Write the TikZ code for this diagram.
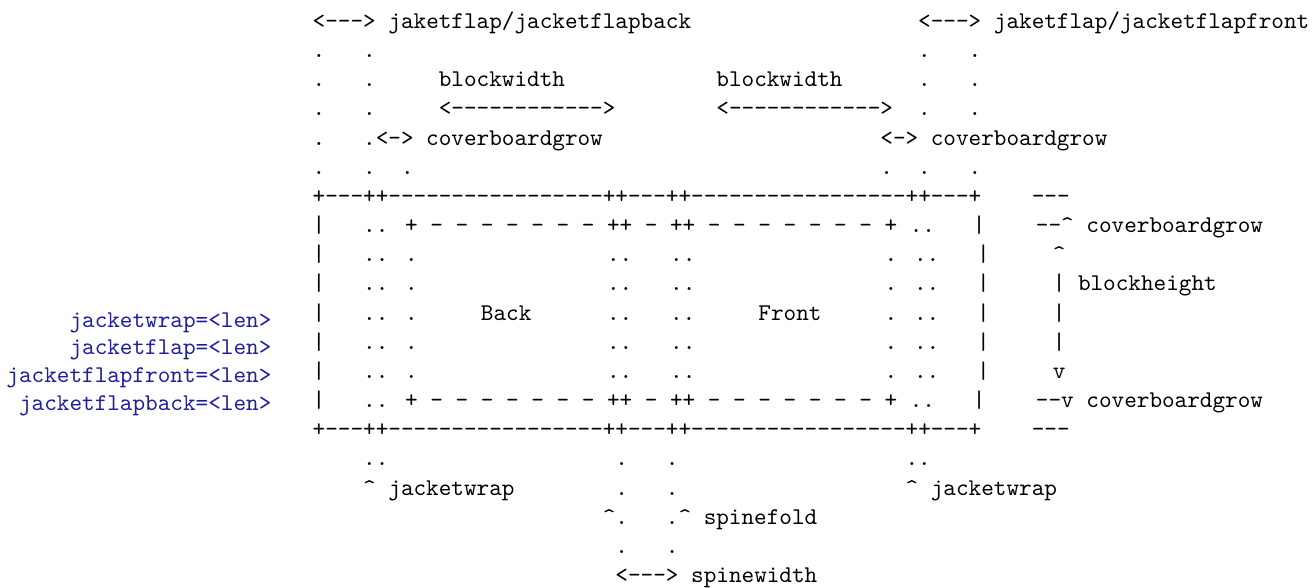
\documentclass[tikz,border=0pt]{standalone}
\usepackage{xcolor}
\usepackage{tikz}
\usetikzlibrary{positioning}
\definecolor{KeyBlue}{RGB}{30,30,160}
% one blank column of the typewriter font, and runs of hyphens that never join
\newcommand\sk[1]{\hspace*{\dimexpr0.525em*#1\relax}}
\newcommand\hy[1]{\foreach\k in {1,...,#1}{-}}
\newcommand\crt{\textasciicircum}
\newcommand\rimrow{+\hy{3}++\hy{17}++\hy{3}++\hy{17}++\hy{3}+}
\newcommand\edgerow{|\sk{3}.. + - - - - - - - ++ - ++ - - - - - - - + ..\sk{3}|}
\newcommand\bodyrow{|\sk{3}.. .\sk{15}..\sk{3}..\sk{15}. ..\sk{3}|}
\tikzset{
    asciirow/.style={
        font=\fontsize{10.05}{12}\ttfamily, inner sep=0pt, anchor=base west
    },
    keyopt/.style={
        font=\fontsize{10.05}{12}\ttfamily, text=KeyBlue, inner sep=0pt, anchor=base east
    }
}
\begin{document}
\begin{tikzpicture}[x=5.25pt, y=-12.2pt]
    \useasboundingbox (0pt,0pt) rectangle (550pt,-245.9pt);

    % --- key list on the left ---
    \node[keyopt] (kwrap)  at (113.7pt,-136.8pt) {jacketwrap=<len>};
    \node[keyopt] (kflap)  at (113.7pt,-148.4pt) {jacketflap=<len>};
    \node[keyopt] (kfront) at (113.7pt,-160.0pt) {jacketflapfront=<len>};
    \node[keyopt] (kback)  at (113.7pt,-171.6pt) {jacketflapback=<len>};

    % --- the sketch, one row per line ---
    \begin{scope}[shift={(130.6pt,-11.9pt)}]
        \node[asciirow] (flaps)     at (0,0)  {<\hy{3}> jaketflap/jacketflapback\sk{18}<\hy{3}> jaketflap/jacketflapfront};
        \node[asciirow] (flapdots)  at (0,1)  {.\sk{3}.\sk{43}.\sk{3}.};
        \node[asciirow] (widthlbl)  at (0,2)  {.\sk{3}.\sk{5}blockwidth\sk{12}blockwidth\sk{6}.\sk{3}.};
        \node[asciirow] (widtharr)  at (0,3)  {.\sk{3}.\sk{5}<\hy{12}>\sk{8}<\hy{12}>\sk{2}.\sk{3}.};
        \node[asciirow] (growlbl)   at (0,4)  {.\sk{3}.<-> coverboardgrow\sk{22}<-> coverboardgrow};
        \node[asciirow] (growdots)  at (0,5)  {.\sk{3}.\sk{2}.\sk{37}.\sk{2}.\sk{3}.};
        \node[asciirow] (rimtop)    at (0,6)  {\rimrow\sk{4}\hy{3}};
        \node[asciirow] (edgetop)   at (0,7)  {\edgerow\sk{4}\hy{2}\crt{} coverboardgrow};
        \node[asciirow] (body1)     at (0,8)  {\bodyrow\sk{5}\crt};
        \node[asciirow] (body2)     at (0,9)  {\bodyrow\sk{5}| blockheight};
        \node[asciirow] (sides)     at (0,10) {|\sk{3}.. .\sk{5}Back\sk{6}..\sk{3}..\sk{5}Front\sk{5}. ..\sk{3}|\sk{5}|};
        \node[asciirow] (body3)     at (0,11) {\bodyrow\sk{5}|};
        \node[asciirow] (body4)     at (0,12) {\bodyrow\sk{5}v};
        \node[asciirow] (edgebot)   at (0,13) {\edgerow\sk{4}\hy{2}v coverboardgrow};
        \node[asciirow] (rimbot)    at (0,14) {\rimrow\sk{4}\hy{3}};
        \node[asciirow] (wrapdots)  at (0,15) {\sk{4}..\sk{18}.\sk{3}.\sk{18}..};
        \node[asciirow] (wraplbl)   at (0,16) {\sk{4}\crt{} jacketwrap\sk{8}.\sk{3}.\sk{18}\crt{} jacketwrap};
        \node[asciirow] (foldlbl)   at (0,17) {\sk{23}\crt.\sk{3}.\crt{} spinefold};
        \node[asciirow] (spinedots) at (0,18) {\sk{24}.\sk{3}.};
        \node[asciirow] (spinelbl)  at (0,19) {\sk{24}<\hy{3}> spinewidth};
    \end{scope}
\end{tikzpicture}
\end{document}
